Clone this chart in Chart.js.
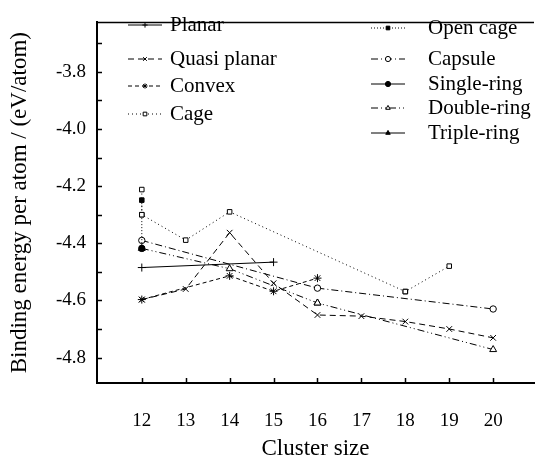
<!DOCTYPE html>
<html>
<head>
<meta charset="utf-8">
<script src="https://cdn.jsdelivr.net/npm/chart.js@4/dist/chart.umd.min.js"></script>
<style>
  html, body { margin:0; padding:0; background:#fff; }
  #wrap { width:539px; height:459px; }
</style>
</head>
<body>
<div id="wrap"><canvas id="chart" width="539" height="459"></canvas></div>
<script>
// ---- data ----
const xTicks = [12, 13, 14, 15, 16, 17, 18, 19, 20];
const yTicks = [-3.8, -4.0, -4.2, -4.4, -4.6, -4.8];

const planarX      = [12, 15];
const planarY      = [-4.485, -4.466];
const quasiX       = [12, 13, 14, 15, 16, 17, 18, 19, 20];
const quasiY       = [-4.597, -4.560, -4.363, -4.540, -4.651, -4.655, -4.674, -4.700, -4.731];
const convexX      = [12, 14, 15, 16];
const convexY      = [-4.597, -4.514, -4.568, -4.522];
const cageX        = [12, 12, 13, 14, 18, 19];
const cageY        = [-4.212, -4.300, -4.389, -4.290, -4.569, -4.480];
const openCageX    = [12, 12, 12, 15, 18];
const openCageY    = [-4.249, -4.300, -4.418, null, -4.569];
const capsuleX     = [12, 16, 20];
const capsuleY     = [-4.390, -4.557, -4.630];
const singleRingX  = [12];
const singleRingY  = [-4.418];
const doubleRingX  = [12, 14, 16, 20];
const doubleRingY  = [-4.418, -4.489, -4.609, -4.772];
const tripleRingX  = [16];
const tripleRingY  = [-4.609];

const pts = (xs, ys) => xs.map((x, i) => ({ x, y: ys[i] }));
const FONT = "'Liberation Serif', 'DejaVu Serif', serif";

function series(label, xs, ys, dash, style, filled) {
  return {
    label, data: pts(xs, ys), showLine: true, spanGaps: false,
    borderColor: "#000", borderWidth: 1, borderDash: dash,
    pointStyle: style, pointRadius: style === "rect" || style === "circle" ? 3.2 : 4,
    pointBorderColor: "#000", pointBorderWidth: 1,
    pointBackgroundColor: filled ? "#000" : "#fff",
    tension: 0
  };
}

const datasets = [
  series("Planar",       planarX,     planarY,     [],                 "cross",    false),
  series("Quasi planar", quasiX,      quasiY,      [6, 4],             "crossRot", false),
  series("Convex",       convexX,     convexY,     [4, 3],             "star",     false),
  series("Cage",         cageX,       cageY,       [1, 3],             "rect",     false),
  series("Open cage",    openCageX,   openCageY,   [1, 2],             "rect",     true),
  series("Capsule",      capsuleX,    capsuleY,    [7, 3, 1, 3],       "circle",   false),
  series("Single-ring",  singleRingX, singleRingY, [],                 "circle",   true),
  series("Double-ring",  doubleRingX, doubleRingY, [7, 3, 1, 3, 1, 3], "triangle", false),
  series("Triple-ring",  tripleRingX, tripleRingY, [],                 "triangle", true)
];

// legend slots: [line start x, row y, text x]
const legendSlots = [
  [128, 25, 170], [128, 59, 170], [128, 86, 170], [128, 114, 170],
  [371, 28, 428], [371, 59, 428], [371, 84, 428], [371, 108, 428], [371, 133, 428]
];

// inward ticks, top border, hand-drawn legend with line + marker
const framePlugin = {
  id: "frame",
  afterDraw(chart) {
    const { ctx, chartArea: a, scales: { x, y } } = chart;
    ctx.save();
    ctx.strokeStyle = "#000";
    ctx.lineWidth = 1.5;
    ctx.beginPath();
    ctx.moveTo(a.left, a.top); ctx.lineTo(a.right, a.top);
    ctx.stroke();

    for (let v = -3.7; v >= -4.85; v -= 0.1) {
      const py = Math.round(y.getPixelForValue(v)) + 0.5;
      ctx.beginPath(); ctx.moveTo(a.left, py); ctx.lineTo(a.left + 5, py); ctx.stroke();
    }
    xTicks.forEach(t => {
      const px = Math.round(x.getPixelForValue(t)) + 0.5;
      ctx.beginPath(); ctx.moveTo(px, a.bottom); ctx.lineTo(px, a.bottom - 5); ctx.stroke();
    });

    // legend
    ctx.font = "21px " + FONT;
    ctx.textBaseline = "middle";
    chart.data.datasets.forEach((ds, i) => {
      const [lx, ly, tx] = legendSlots[i];
      ctx.save();
      ctx.lineWidth = 1;
      ctx.strokeStyle = "#000";
      ctx.setLineDash(ds.borderDash);
      ctx.beginPath(); ctx.moveTo(lx, ly); ctx.lineTo(lx + 34, ly); ctx.stroke();
      ctx.setLineDash([]);
      ctx.fillStyle = ds.pointBackgroundColor;
      Chart.helpers.drawPoint(ctx, { pointStyle: ds.pointStyle, radius: 2.6, rotation: 0, borderWidth: 1 }, lx + 17, ly);
      ctx.restore();
      ctx.fillStyle = "#000";
      ctx.fillText(ds.label, tx, ly);
    });
    ctx.restore();
  }
};

new Chart(document.getElementById("chart"), {
  type: "scatter",
  data: { datasets },
  plugins: [framePlugin],
  options: {
    responsive: false,
    animation: false,
    layout: { padding: { top: 14, right: 0, bottom: 0, left: 0 } },
    plugins: { legend: { display: false }, tooltip: { enabled: false } },
    scales: {
      x: {
        type: "linear", min: 10.98, max: 20.93,
        afterBuildTicks: s => { s.ticks = xTicks.map(v => ({ value: v })); },
        afterFit: s => { s.height = 76; },
        grid: { display: false, drawTicks: false },
        border: { display: true, color: "#000", width: 2 },
        ticks: { color: "#000", padding: 27, font: { family: FONT, size: 19 }, maxRotation: 0 },
        title: { display: true, text: "Cluster size", color: "#000",
                 font: { family: FONT, size: 23 }, padding: { top: 0, bottom: -4 } }
      },
      y: {
        type: "linear", min: -4.889, max: -3.627,
        afterBuildTicks: s => { s.ticks = yTicks.map(v => ({ value: v })); },
        afterFit: s => { s.width = 97; },
        grid: { display: false, drawTicks: false },
        border: { display: true, color: "#000", width: 2 },
        ticks: { color: "#000", padding: 11, font: { family: FONT, size: 19 },
                 callback: v => v.toFixed(1) },
        title: { display: true, text: "Binding energy per atom / (eV/atom)", color: "#000",
                 font: { family: FONT, size: 23 }, padding: { top: 6, bottom: 0 } }
      }
    }
  }
});
</script>
</body>
</html>
